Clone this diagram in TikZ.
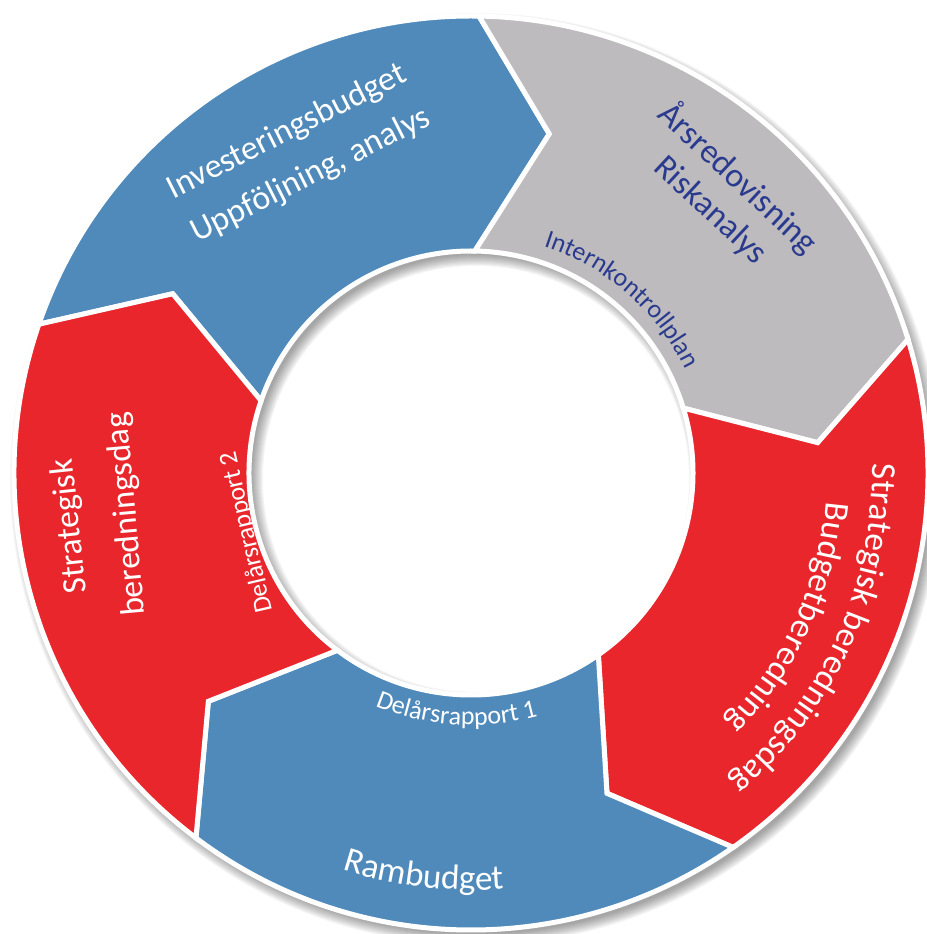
\documentclass[tikz,border=0pt]{standalone}
\usepackage{fontspec}
\setmainfont{Carlito}
\usetikzlibrary{decorations.text}
\definecolor{segblue}{RGB}{80,138,186}
\definecolor{segred}{RGB}{233,38,44}
\definecolor{seggray}{RGB}{189,187,189}
\definecolor{txtblue}{RGB}{42,58,142}
\newcommand\fsBig{\fontsize{34}{40}\selectfont}
\newcommand\fsBigger{\fontsize{35}{42}\selectfont}
\newcommand\fsSmall{\fontsize{26}{30}\selectfont}
\newcommand\wcol{\color{white}}
\newcommand\bcol{\color{txtblue}}
\newcommand\ringseg[2]{%
  \pgfmathsetmacro\segF{#1-72}%
  \pgfmathsetmacro\segFT{#1-84}%
  \pgfmathsetmacro\segBT{#1-12}%
  \path[seg, fill=#2] (#1:457) arc[start angle=#1, end angle=\segF, radius=457]
    -- (\segFT:348) -- (\segF:222) arc[start angle=\segF, end angle=#1, radius=222]
    -- (\segBT:348) -- cycle;}
\begin{document}
\begin{tikzpicture}[x=1pt,y=1pt,
  seg/.style={draw=white, line width=5pt, line join=miter},
  bigtxt/.style={font=\fsBig, text=white, inner sep=0pt, anchor=base},
  smalltxt/.style={font=\fsSmall, text=white, inner sep=0pt, anchor=base}]
\useasboundingbox (-471,-461) rectangle (455,473);
% soft shadow
\foreach \i in {0,...,11}{
  \fill[black, opacity=0.035, even odd rule] (5,-6) circle[radius=455+\i] (5,-6) circle[radius=224-\i];
}
% ring segments (back angle, colour)
\ringseg{161}{segblue}
\ringseg{89}{seggray}
\ringseg{17}{segred}
\ringseg{-55}{segblue}
\ringseg{-127}{segred}
% blue top
\node[bigtxt, rotate=26.8] (inv) at (-180,333) {Investeringsbudget};
\node[bigtxt, rotate=26.8] (upp) at (-156,289.5) {Uppföljning, analys};
% gray
\node[bigtxt, text=txtblue, rotate=-43] (ars) at (260,287) {Årsredovisning};
\node[bigtxt, text=txtblue, rotate=-43] (risk) at (233,255.6) {Riskanalys};
\begin{scope}[color=txtblue]
\path[decorate, decoration={text along path, text align=center,
  text={|\fsSmall\bcol|Internkontrollplan}}]
  (94:238) arc[start angle=94, end angle=4, radius=238];
\end{scope}
% red right
\begin{scope}[color=white]
\path[decorate, decoration={text along path, text align=center,
  text={|\fsBigger\wcol|Strategisk beredningsdag}}]
  (20.7:401) arc[start angle=20.7, end angle=-69.3, radius=401];
\path[decorate, decoration={text along path, text align=center,
  text={|\fsBigger\wcol|Budgetberedning}}]
  (20.5:356) arc[start angle=20.5, end angle=-69.5, radius=356];
% blue bottom
\path[decorate, decoration={text along path, text align=center,
  text={|\fsSmall\wcol|Delårsrapport 1}}]
  (-138.5:252) arc[start angle=-138.5, end angle=-48.5, radius=252];
\path[decorate, decoration={text along path, text align=center,
  text={|\fsBigger\wcol|Rambudget}}]
  (-141.7:417) arc[start angle=-141.7, end angle=-51.7, radius=417];
\end{scope}
% red left
\node[bigtxt, rotate=96] (strat) at (-391.6,-52.4) {Strategisk};
\node[bigtxt, rotate=95] (bered) at (-335,-40.4) {beredningsdag};
\node[smalltxt, rotate=103] (del2) at (-217,-57.6) {Delårsrapport 2};
\end{tikzpicture}
\end{document}
